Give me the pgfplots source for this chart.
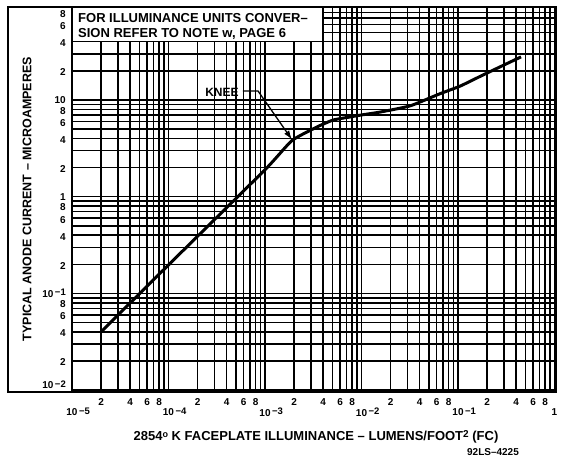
\documentclass[border=0pt]{standalone}
\usepackage{fontspec}
\setmainfont{Liberation Sans}
\usepackage{pgfplots}
\pgfplotsset{compat=1.18}
\usetikzlibrary{arrows.meta}

% decade labels: "10" centred on the line, exponent hanging to the right
\newcommand{\declab}[1]{10\rlap{\raisebox{1.5pt}{\fontsize{9.5}{9.5}\selectfont\,−#1}}}
\newcommand{\declabY}[1]{10\raisebox{1.5pt}{\fontsize{9.5}{9.5}\selectfont\,−#1}}

\begin{document}
\begin{tikzpicture}
\begin{axis}[
    name=ax,
    at={(0,0)}, anchor=south west,
    scale only axis,
    width=484pt, height=385pt,
    xmode=log, ymode=log,
    xmin=1e-5, xmax=1.036,
    ymin=0.00956, ymax=91.5,
    axis line style={line width=2pt},
    major tick length=0pt, minor tick length=0pt,
    grid=both,
    major grid style={black, line width=1.5pt},
    minor grid style={black, line width=1.5pt},
    xtick={1e-5,1e-4,1e-3,1e-2,1e-1,1},
    xticklabels={\declab{5},\declab{4},\declab{3},\declab{2},\declab{1},1},
    minor xtick={2e-5,3e-5,4e-5,5e-5,6e-5,7e-5,8e-5,9e-5,
                 2e-4,3e-4,4e-4,5e-4,6e-4,7e-4,8e-4,9e-4,
                 2e-3,3e-3,4e-3,5e-3,6e-3,7e-3,8e-3,9e-3,
                 2e-2,3e-2,4e-2,5e-2,6e-2,7e-2,8e-2,9e-2,
                 0.2,0.3,0.4,0.5,0.6,0.7,0.8,0.9},
    ytick={0.01,0.1,1,10},
    yticklabels={\raisebox{1.5pt}[0pt][0pt]{\declabY{2}},\declabY{1},1,10},
    minor ytick={0.02,0.03,0.04,0.05,0.06,0.07,0.08,0.09,
                 0.2,0.3,0.4,0.5,0.6,0.7,0.8,0.9,
                 2,3,4,5,6,7,8,9,
                 20,30,40,50,60,70,80,90},
    extra x ticks={2e-5,4e-5,6e-5,8e-5,2e-4,4e-4,6e-4,8e-4,
                   2e-3,4e-3,6e-3,8e-3,2e-2,4e-2,6e-2,8e-2,
                   0.2,0.4,0.6,0.8},
    extra x tick labels={2,4,6,8,2,4,6,8,2,4,6,8,2,4,6,8,2,4,6,8},
    extra y ticks={0.02,0.04,0.06,0.08,0.2,0.4,0.6,0.8,
                   2,4,6,8,20,40,60,80},
    extra y tick labels={2,4,6,8,2,4,6,8,2,4,6,8,2,4,6,8},
    extra tick style={grid=none},
    extra x tick style={xticklabel style={yshift=10pt}},
    extra y tick style={yticklabel style={yshift=-1.5pt}},
    xticklabel style={anchor=center, yshift=-20pt},
    yticklabel style={anchor=east, inner sep=0pt, xshift=-6pt},
    ticklabel style={font=\bfseries\fontsize{10}{10}\selectfont},
    clip=false,
]
% blank area behind the note
\fill[white] ([xshift=1pt,yshift=0.8pt]axis cs:1e-5,40) rectangle ([xshift=-0.8pt,yshift=-1pt]axis cs:4e-3,91.5);

% typical anode current vs faceplate illuminance
\addplot[black, line width=3pt, smooth, tension=0.3] coordinates {
    (2e-5, 0.040)
    (1e-4, 0.197)
    (1e-3, 1.9)
    (1.9e-3, 3.8)
    (3.46e-3, 5.26)
    (5.07e-3, 6.2)
    (7.6e-3, 6.67)
    (1.0e-2, 7.0)
    (1.56e-2, 7.5)
    (3.2e-2, 8.7)
    (6.5e-2, 11.6)
    (0.105, 13.9)
    (0.181, 18.1)
    (0.45, 27.9)
};

% knee annotation
\node[font=\bfseries\fontsize{12}{12}\selectfont] at (axis cs:3.58e-4,12.1) {KNEE};
\draw[line width=1.3pt, -{Latex[length=9pt,width=6pt]}]
    (axis cs:5.9e-4,12.4) -- (axis cs:8.46e-4,12.4) -- (axis cs:1.9e-3,3.9);
\end{axis}

% note in the top-left corner
\node[anchor=base west, inner sep=0pt, font=\bfseries\fontsize{13}{13}\selectfont]
    at (6pt,369pt) {FOR ILLUMINANCE UNITS CONVER–};
\node[anchor=base west, inner sep=0pt, font=\bfseries\fontsize{13}{13}\selectfont]
    at (6pt,354pt) {SION REFER TO NOTE w, PAGE 6};

% outer frame on the left
\draw[line width=2pt] (0,385pt) -- (-64pt,385pt) -- (-64pt,0) -- (0,0);

% axis titles
\node[rotate=90, font=\bfseries\fontsize{12.5}{13}\selectfont] at (-45pt,193pt)
    {TYPICAL ANODE CURRENT – MICROAMPERES};
\node[font=\bfseries\fontsize{13}{13}\selectfont] at (244pt,-45pt)
    {2854\raisebox{3.5pt}{\fontsize{9}{9}\selectfont o} K FACEPLATE ILLUMINANCE – LUMENS/FOOT\raisebox{3.5pt}{\fontsize{10}{10}\selectfont 2} (FC)};
\node[font=\bfseries\fontsize{10}{10}\selectfont] at (421pt,-60pt) {92LS–4225};

\pgfresetboundingbox
\path (-72pt,-65pt) rectangle (493pt,392pt);
\end{tikzpicture}
\end{document}
